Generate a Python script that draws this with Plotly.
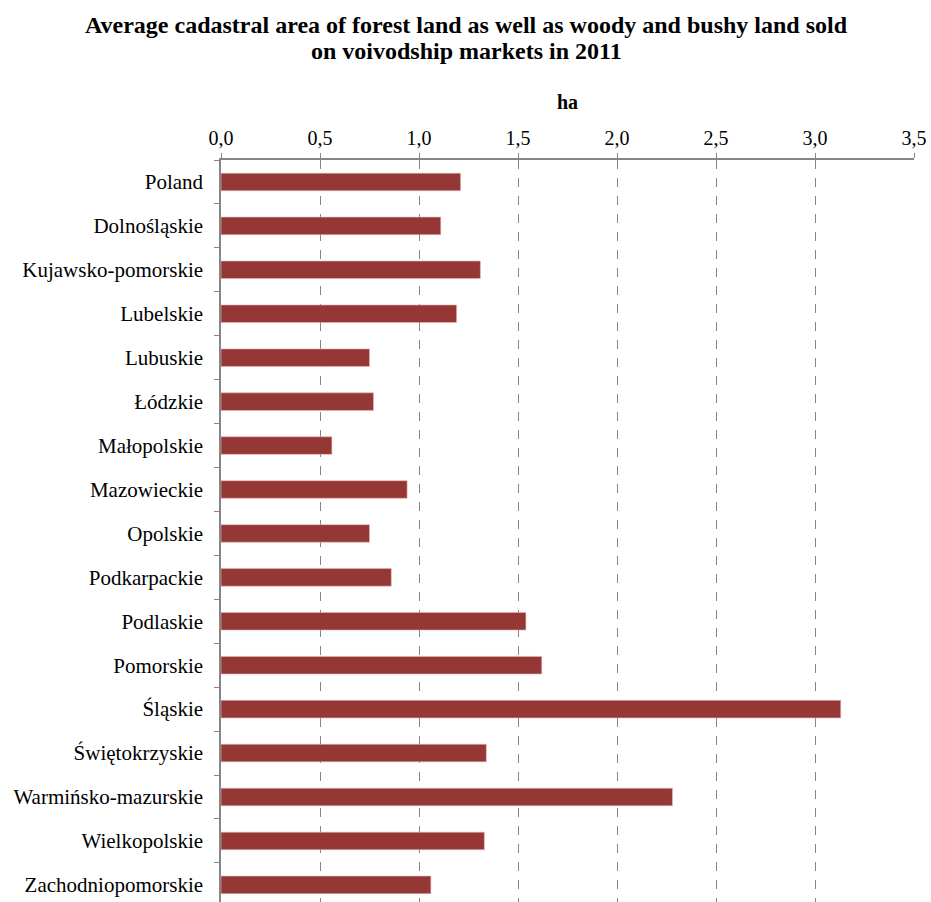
import plotly.graph_objects as go

regions = ["Poland", "Dolnośląskie", "Kujawsko-pomorskie", "Lubelskie", "Lubuskie",
           "Łódzkie", "Małopolskie", "Mazowieckie", "Opolskie", "Podkarpackie",
           "Podlaskie", "Pomorskie", "Śląskie", "Świętokrzyskie",
           "Warmińsko-mazurskie", "Wielkopolskie", "Zachodniopomorskie"]
area_ha = [1.21, 1.11, 1.31, 1.19, 0.75, 0.77, 0.56, 0.94, 0.75, 0.86,
           1.54, 1.62, 3.13, 1.34, 2.28, 1.33, 1.06]
x_ticks = [0, 0.5, 1.0, 1.5, 2.0, 2.5, 3.0, 3.5]
title_lines = ["Average cadastral area of forest land as well as woody and bushy land sold",
               "on voivodship markets in 2011"]

font = "Liberation Serif"

fig = go.Figure(go.Bar(
    y=regions, x=area_ha, orientation="h", width=0.4,
    marker=dict(color="#953735", line=dict(color="#e6b9b8", width=0.6)),
))

L, T, W = 221, 160, 693
fig.update_layout(
    width=931, height=902,
    margin=dict(l=L, r=931 - L - W, t=T, b=0, autoexpand=False),
    paper_bgcolor="white", plot_bgcolor="white",
    separators=", ",
    showlegend=False,
    font=dict(family=font, size=21, color="black"),
)
fig.update_xaxes(
    side="top", range=[0, 3.5], tickvals=x_ticks, tickformat=".1f",
    showline=True, linecolor="#868686", linewidth=1.5,
    ticks="outside", ticklen=5, tickcolor="#868686",
    showgrid=True, gridcolor="#868686", griddash="dash", gridwidth=1,
    zeroline=False, tickfont=dict(family=font, size=20), automargin=False,
    ticklabeloverflow="allow",
)
fig.update_yaxes(
    autorange=False, range=[16.39, -0.5], type="category",
    showline=True, linecolor="#868686", linewidth=1.5,
    ticks="outside", ticklen=5, tickcolor="#868686", tickson="boundaries",
    showgrid=False, tickfont=dict(family=font, size=21), ticklabelstandoff=12,
    automargin=False,
)
for line, ypix in zip(title_lines, [25, 51]):
    fig.add_annotation(text="<b>" + line + "</b>",
                       x=(466 - L) / W, xref="paper", xanchor="center",
                       y=1, yref="paper", yanchor="middle", yshift=T - ypix,
                       showarrow=False, font=dict(family=font, size=24))
fig.add_annotation(text="<b>ha</b>", x=(567 - L) / W, xref="paper", xanchor="center",
                   y=1, yref="paper", yanchor="middle", yshift=T - 102,
                   showarrow=False, font=dict(family=font, size=20))
fig.write_html("out.html", config={"displayModeBar": False},
               post_script="document.body.style.margin='0px';document.body.style.overflow='hidden';")
